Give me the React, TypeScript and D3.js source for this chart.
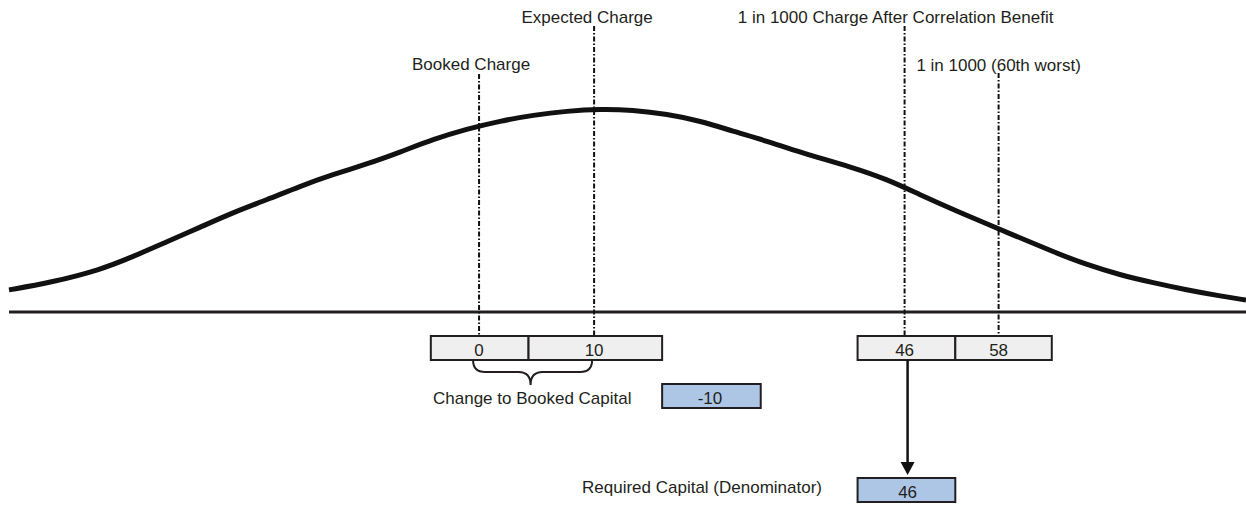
import React from "react";
import * as d3 from "d3";

// Loss distribution curve (x: position along loss axis 0..100, y: relative density)
const curveX = [0, 3.3, 7.4, 10.0, 12.8, 15.4, 18.1, 20.9, 23.5, 26.2, 28.9, 31.6, 34.3, 37.0, 39.7, 42.4, 45.1, 47.8, 50.4, 53.2, 55.9, 58.5, 61.3, 63.9, 68.2, 71.0, 73.6, 76.3, 81.7, 84.4, 87.1, 89.8, 92.5, 95.2, 97.9, 100];
const curveDensity = [0.109, 0.144, 0.208, 0.272, 0.347, 0.416, 0.49, 0.554, 0.619, 0.678, 0.728, 0.787, 0.851, 0.901, 0.941, 0.97, 0.99, 1.0, 0.995, 0.975, 0.941, 0.891, 0.842, 0.787, 0.713, 0.653, 0.579, 0.505, 0.366, 0.297, 0.233, 0.183, 0.144, 0.109, 0.079, 0.059];

// Markers
const markerNames = ["Booked Charge", "Expected Charge", "1 in 1000 Charge After Correlation Benefit", "1 in 1000 (60th worst)"];
const markerPos = [38.0, 47.3, 72.4, 80.0];
const markerValues = [0, 10, 46, 58];

// Value boxes (edges along loss axis)
const boxGroupLeft = [34.1, 42.0, 52.8];
const boxGroupRight = [68.6, 76.5, 84.3];

const changeLabel = "Change to Booked Capital";
const changeValue = markerValues[0] - markerValues[1];
const requiredLabel = "Required Capital (Denominator)";
const requiredValue = markerValues[2];

export default function App() {
  const W = 1246, H = 510;
  const x = d3.scaleLinear().domain([0, 100]).range([9, 1246]);
  const baseY = 312;
  const y = d3.scaleLinear().domain([0, 1]).range([baseY, 109]);
  const line = d3.line<number>().x((_, i) => x(curveX[i])).y((d) => y(d)).curve(d3.curveBasis);
  const ink = "#231f20";
  const font = "'Liberation Sans', Arial, sans-serif";
  const fs = 17;
  const boxTop = 336, boxBot = 360;
  const markerTop = [74, 26, 26, 73];
  const labelY = [70, 23, 23, 71];
  const labelX = [x(markerPos[0]) - 8, x(markerPos[1]) - 7, x(markerPos[2]) - 9, x(markerPos[3]) - 0];

  const groups = [boxGroupLeft, boxGroupRight];
  const bL = x(markerPos[0]) - 6, bR = x(markerPos[1]) - 2;
  const bMid = (bL + bR) / 2 - 2;
  const b1 = 360, b2 = 372, b3 = 385;
  const brace = `M${bL},${b1} Q${bL},${b2} ${bL + 12},${b2} L${bMid - 12},${b2} Q${bMid},${b2} ${bMid},${b3} Q${bMid},${b2} ${bMid + 12},${b2} L${bR - 12},${b2} Q${bR},${b2} ${bR},${b1}`;

  const blue = "#adc6e6";
  const ax = x(markerPos[2]) + 3;

  return (
    <svg width={W} height={H} style={{ position: "absolute", left: 0, top: 0, background: "#fff" }} fontFamily={font}>
      <rect x={0} y={0} width={W} height={H} fill="#fff" />
      {/* baseline */}
      <line x1={x(0)} x2={x(100)} y1={baseY} y2={baseY} stroke={ink} strokeWidth={3} />
      {/* curve */}
      <path d={line(curveDensity) || ""} fill="none" stroke="#111" strokeWidth={5} />
      {/* marker lines */}
      {markerPos.map((p, i) => (
        <line key={"m" + i} x1={x(p)} x2={x(p)} y1={markerTop[i]} y2={boxTop} stroke="#111" strokeWidth={2} strokeDasharray="5,2,1.5,2" />
      ))}
      {markerNames.map((n, i) => (
        <text key={"l" + i} x={labelX[i]} y={labelY[i]} fontSize={fs} fill={ink} textAnchor="middle">{n}</text>
      ))}
      {/* value boxes */}
      {groups.map((g, gi) => (
        <g key={"g" + gi}>
          {g.slice(0, -1).map((e, j) => (
            <rect key={j} x={x(e)} y={boxTop} width={x(g[j + 1]) - x(e)} height={boxBot - boxTop} fill="#efefef" stroke={ink} strokeWidth={2} />
          ))}
        </g>
      ))}
      {markerValues.map((v, i) => (
        <text key={"v" + i} x={x(markerPos[i])} y={boxTop + 20} fontSize={fs} fill={ink} textAnchor="middle">{v}</text>
      ))}
      {/* brace */}
      <path d={brace} fill="none" stroke={ink} strokeWidth={2} />
      <text x={433} y={404} fontSize={fs} fill={ink}>{changeLabel}</text>
      <rect x={x(boxGroupLeft[2])} y={384} width={x(boxGroupLeft[2]) - x(boxGroupLeft[1]) - 35} height={24} fill={blue} stroke={ink} strokeWidth={2} />
      <text x={710} y={404} fontSize={fs} fill={ink} textAnchor="middle">{changeValue}</text>
      {/* arrow */}
      <line x1={ax} x2={ax} y1={boxBot} y2={464} stroke="#111" strokeWidth={2.5} />
      <path d={`M${ax - 7},${462} L${ax + 7},${462} L${ax},${475} Z`} fill="#111" />
      <text x={582} y={493} fontSize={fs} fill={ink}>{requiredLabel}</text>
      <rect x={x(boxGroupRight[0])} y={478} width={x(boxGroupRight[1]) - x(boxGroupRight[0])} height={24} fill={blue} stroke={ink} strokeWidth={2} />
      <text x={ax} y={498} fontSize={fs} fill={ink} textAnchor="middle">{requiredValue}</text>
    </svg>
  );
}
